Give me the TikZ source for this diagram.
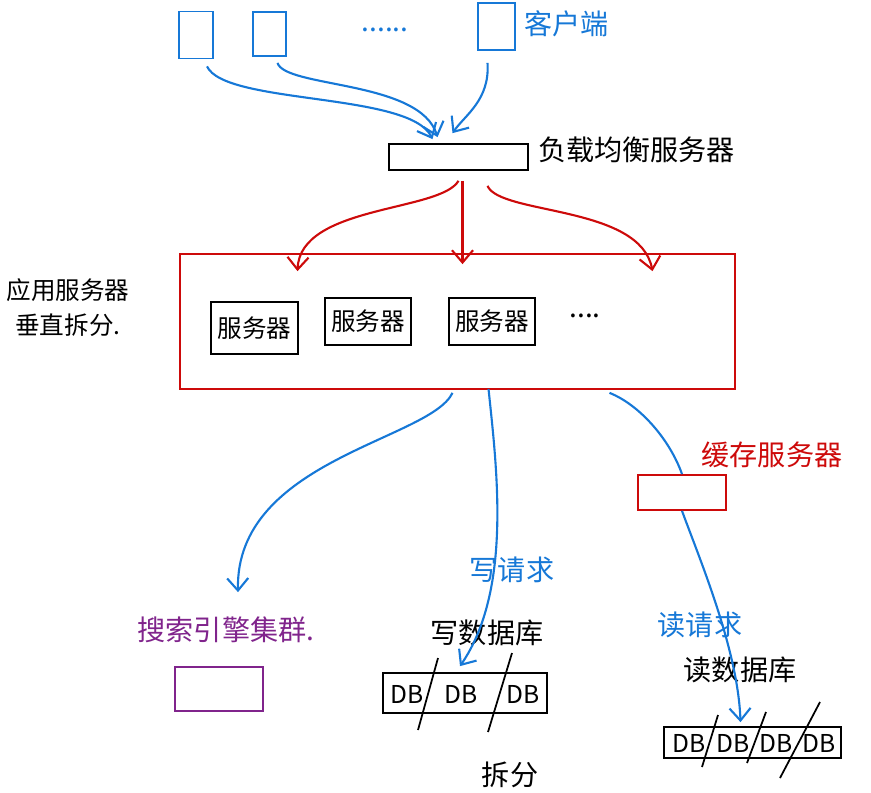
\documentclass[tikz,border=0pt]{standalone}
\usepackage{fontspec}
\newfontfamily\cjk{Noto Sans CJK SC}
\usetikzlibrary{arrows.meta,calc}
\definecolor{penblue}{RGB}{22,120,215}
\definecolor{penred}{RGB}{205,10,10}
\definecolor{penpurple}{RGB}{128,36,140}
\begin{document}
\begin{tikzpicture}[x=0.02cm, y=-0.02cm,
  hand/.style={font=\cjk\fontsize{16}{21}\selectfont},
  small/.style={font=\cjk\fontsize{14}{20}\selectfont},
  box/.style={draw, line width=1pt, inner sep=0pt},
  barb/.style={-{Straight Barb[length=7pt,width=12pt]}, line width=1.2pt}]
\useasboundingbox (0,0) rectangle (871,793);

% clients
\node[box, penblue, minimum width=0.68cm, minimum height=0.94cm] (c1) at (196,35) {};
\node[box, penblue, minimum width=0.66cm, minimum height=0.88cm] (c2) at (269.5,34) {};
\node[box, penblue, minimum width=0.74cm, minimum height=0.94cm] (c3) at (496.5,26.5) {};
\node[penblue, hand] (cdots) at (385,30) {......};
\node[penblue, hand, anchor=west] (clab) at (518,24) {客户端};

% load balancer
\node[box, minimum width=2.78cm, minimum height=0.52cm] (lb) at (458.5,157) {};
\node[hand, anchor=west] (lblab) at (532,150) {负载均衡服务器};

\draw[barb, penblue] ($(c1.south)+(11,7)$) .. controls (225,105) and (410,92) .. ($(lb.north)+(-26,-4)$);
\draw[barb, penblue] ($(c2.south)+(8,6)$) .. controls (285,88) and (420,80) .. ($(lb.north)+(-21,-6)$);
\draw[barb, penblue] ($(c3.south)+(-9,12)$) .. controls (490,100) and (465,115) .. ($(lb.north)+(-6,-10)$);

% application servers
\node[box, penred, minimum width=11.1cm, minimum height=2.7cm] (app) at (457.5,321.5) {};
\node[small, align=center] (applab) at (68,308) {应用服务器\\垂直拆分.};
\node[box, small, minimum width=1.74cm, minimum height=1.04cm] (s1) at (254.5,328) {服务器};
\node[box, small, minimum width=1.72cm, minimum height=0.94cm] (s2) at (368,321.5) {服务器};
\node[box, small, minimum width=1.72cm, minimum height=0.94cm] (s3) at (492,321.5) {服务器};
\node[hand] (sdots) at (585,316) {....};

\draw[barb, penred] ($(lb.south)+(0,10)$) .. controls (440,212) and (300,205) .. ($(app.north)+(-160,18)$);
\draw[barb, penred] ($(lb.south)+(4,10)$) -- ($(app.north)+(5,11)$);
\draw[barb, penred] ($(lb.south)+(29,15)$) .. controls (500,215) and (640,205) .. ($(app.north)+(195,18)$);

% search engine
\node[hand, penpurple] (slab) at (226,630) {搜索引擎集群.};
\node[box, penpurple, minimum width=1.76cm, minimum height=0.88cm] (search) at (219,689) {};
\draw[barb, penblue] ($(app.south)+(-5,3)$) .. controls (430,440) and (235,460) .. ($(search.north)+(19,-74)$);

% cache
\node[box, penred, minimum width=1.76cm, minimum height=0.7cm] (cache) at (682,492.5) {};
\node[hand, penred] (cachelab) at (772,455) {缓存服务器};

% write database
\node[hand, penblue] (wreq) at (512,570) {写请求};
\node[hand] (wlab) at (487,633) {写数据库};
\node[box, minimum width=3.28cm, minimum height=0.8cm] (wdb) at (465,693) {};
\foreach \x/\n in {407/1,461/2,523/3}
  \node[small] (w\n) at (\x,694) {DB};
\draw[line width=1pt] (438,658) -- (418,730);
\draw[line width=1pt] (512,653) -- (488,732);
\node[hand] (split) at (510,775) {拆分};
\draw[barb, penblue] ($(app.south)+(31,-1)$) .. controls (497,470) and (512,590) .. ($(wdb.north)+(-5,-6)$);

% read database
\node[hand, penblue] (rreq) at (700,625) {读请求};
\node[hand] (rlab) at (740,670) {读数据库};
\node[box, minimum width=3.54cm, minimum height=0.62cm] (rdb) at (752.5,742.5) {};
\foreach \x/\n in {689/1,733/2,776/3,819/4}
  \node[small] (r\n) at (\x,743) {DB};
\draw[line width=1pt] (718,715) -- (702,767);
\draw[line width=1pt] (766,712) -- (747,763);
\draw[line width=1pt] (820,702) -- (780,778);

\draw[line width=1.2pt, penblue] ($(app.south)+(152,3)$) .. controls (640,405) and (670,440) .. (cache.north);
\draw[barb, penblue] (cache.south) .. controls (700,560) and (738,650) .. ($(rdb.north)+(-12,-4)$);
\end{tikzpicture}
\end{document}
